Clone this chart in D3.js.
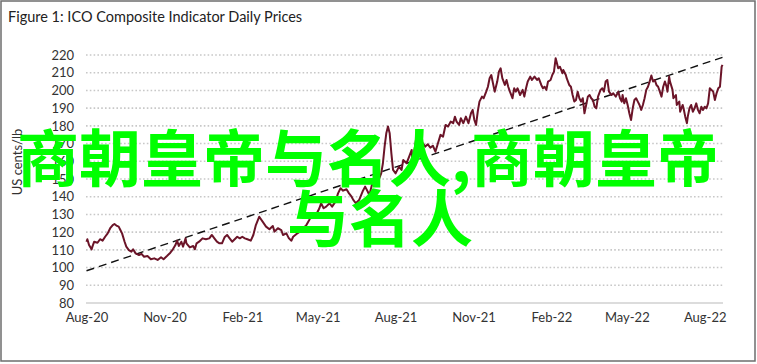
<!DOCTYPE html>
<html><head><meta charset="utf-8">
<script src="https://cdn.jsdelivr.net/npm/d3@7"></script>
<style>
html,body{margin:0;padding:0;background:#fff;}
svg{display:block;}
</style></head>
<body>
<svg id="chart" width="757" height="364"></svg>
<script>
// ---- data ----
const title = "Figure 1: ICO Composite Indicator Daily Prices";
const yTitle = "US cents/lb";
const startDate = "2020-08-01";
// days since startDate
const dayOffsets = [0,1,3,6,7,9,13,16,19,22,25,28,31,33,36,38,40,42,45,47,50,53,55,58,62,65,68,72,76,80,84,88,91,95,99,102,105,107,109,112,114,117,118,122,126,128,130,133,137,141,145,148,151,154,157,160,163,166,169,172,175,178,181,184,187,190,194,197,200,204,212,216,220,222,226,230,232,236,239,242,244,248,252,255,259,263,267,271,275,277,280,283,287,290,294,297,300,303,307,310,313,315,318,322,326,329,332,334,337,340,343,345,348,350,352,354,356,358,360,362,365,369,372,374,378,381,384,385,389,392,395,397,400,403,406,409,412,415,418,421,424,427,430,433,435,437,440,442,445,448,451,454,456,458,460,462,464,467,469,472,474,476,478,480,482,485,487,489,491,494,496,498,500,503,505,507,509,512,515,517,519,521,524,526,529,532,534,537,539,541,543,545,548,550,552,554,555,557,559,562,563,566,567,570,572,574,576,578,580,582,584,586,588,590,592,594,596,598,600,602,604,607,609,611,613,615,617,620,622,625,628,630,632,633,635,637,639,641,643,645,647,649,651,653,655,657,659,661,663,665,667,669,671,673,675,677,679,681,683,685,686,688,689,692,693,696,697,700,701,704,705,707,709,710,712,714,716,718,720,722,724,726,728,730,732,734,736,738,740,742,744,746,748,750,751];
const prices = [114.6,116,112.7,110.3,111.8,114.6,114,116,115.2,117.4,119.3,122.2,124,124.6,123.5,123.1,121.2,119.3,114.6,111.8,109.9,109,110.3,108,107.1,107.7,106.1,106.5,104.7,105.2,104.3,105.8,104.7,106.5,108.4,110.3,112.7,115.2,112.2,114.6,111.8,116.5,113.7,111.4,112.2,110.3,113.7,114.6,116.5,116,116.5,118.4,116.5,114.6,113.7,113.7,117.1,118.4,116.5,114.6,116,117.4,116.5,117.4,116.5,116,115.2,118.4,124,128.7,123.1,121.6,123.5,120.3,122.2,121.2,118.4,119.3,116.5,115.2,117.4,119,120.3,122.2,123.5,126.9,130.6,129.7,133.5,136.3,133.5,134.4,136.3,134.4,137.2,141.9,144.8,143.4,144.2,141.9,140,138.2,136.3,138.2,142.9,145.7,142.9,141,146.6,150.4,152.3,149.5,153.2,158.9,168.3,175.8,179.6,175.8,164.5,155.1,153.2,157,155.1,160.7,158.9,162.6,166.4,158.9,172,169.2,171.1,170.2,168.3,169.6,167.7,168.8,165.4,170.2,174.9,173.9,180.5,179.6,182.4,181.5,185.2,182.4,180.5,184.3,181.5,185.2,181.5,187.1,189,183.3,180.5,188,193.7,196.5,195.6,199.3,202.1,206.9,208.7,204,199.3,205,210.6,212.5,206.9,203.1,205.9,202.1,199.3,195.6,201.2,199.3,201.2,197.4,200.3,196.5,201.2,205,207.8,205.9,207.8,205.9,206.9,203.1,201.2,202.1,200.3,205,205.9,208.7,210.6,218.2,216.3,212.5,213.4,209.7,211.5,208.7,206.9,203.1,202.1,197.4,193.7,194.6,199.3,195.6,193.7,195.6,187.1,191.8,196.5,197.4,195.6,194.6,190.8,189.9,196.5,200.3,201.2,199.3,205,205.9,199.3,197.4,198.4,196.5,199.3,195.6,193.7,197.4,192.7,195.6,191.8,187.1,183.3,189.9,194.6,195.6,193.7,191.8,189,191.8,195.6,200.3,202.1,205,208.4,205,205.9,203.1,202.1,199.3,196.5,202.1,205,202.1,199.3,207.8,205,200.3,195.6,197.4,191.8,193.7,188,191.8,189.9,185.2,181.5,185.2,189.9,191.8,188,189.9,192.7,189,187.1,190.8,189,190.8,189.9,192.7,201.2,200.3,199.3,194.6,198.4,201.2,202.1,213.4,214.4];
// linear trend line end points (day offset, value)
const trendDays = [0, 751];
const trendValues = [98.2, 218.7];
const yTicks = [80,90,100,110,120,130,140,150,160,170,180,190,200,210,220];
const xTickDates = ["2020-08-01","2020-11-01","2021-02-01","2021-05-01","2021-08-01","2021-11-01","2022-02-01","2022-05-01","2022-08-01"];
const xTickLabels = ["Aug-20","Nov-20","Feb-21","May-21","Aug-21","Nov-21","Feb-22","May-22","Aug-22"];
const overlayLines = ["商朝皇帝与名人,商朝皇帝","与名人"];

// ---- drawing ----
const W = 757, H = 364;
const svg = d3.select("#chart");
const parse = d3.utcParse("%Y-%m-%d");
const t0 = parse(startDate);
const toDate = d => d3.utcDay.offset(t0, d);

const x = d3.scaleUtc().domain([t0, toDate(751)]).range([86.5, 722.5]);
const y = d3.scaleLinear().domain([80, 220]).range([303, 55]);

// outer frame
svg.append("rect").attr("x",1).attr("y",1).attr("width",W-3).attr("height",H-4)
  .attr("fill","none").attr("stroke","#6d6d6d").attr("stroke-width",1.5);

svg.append("text").attr("x",8).attr("y",22).text(title)
  .attr("font-family","Lato, 'Open Sans', sans-serif").attr("font-size",14.5).attr("fill","#222");

// gridlines
svg.append("g").selectAll("line").data(yTicks.filter(v=>v>80)).join("line")
  .attr("x1",86).attr("x2",723).attr("y1",d=>y(d)).attr("y2",d=>y(d))
  .attr("stroke","#c8c8c8").attr("stroke-width",1.6).attr("stroke-dasharray","1.6,2.2");
// baseline
svg.append("line").attr("x1",86).attr("x2",723).attr("y1",y(80)).attr("y2",y(80))
  .attr("stroke","#dcdcdc").attr("stroke-width",2);

// y axis labels
const yAxis = d3.axisLeft(y).tickValues(yTicks).tickSize(0).tickPadding(0);
const gy = svg.append("g").attr("transform","translate(74,0)").call(yAxis);
gy.select(".domain").remove();
gy.selectAll("text").attr("font-family","Lato, 'Open Sans', sans-serif").attr("font-size",13).attr("fill","#333");

// x axis labels
const xAxis = d3.axisBottom(x).tickValues(xTickDates.map(parse)).tickFormat((d,i)=>xTickLabels[i]).tickSize(0).tickPadding(0);
const gx = svg.append("g").attr("transform","translate(0,313)").call(xAxis);
gx.select(".domain").remove();
gx.selectAll("text").attr("font-family","Lato, 'Open Sans', sans-serif").attr("font-size",13).attr("fill","#333");

// y title
svg.append("text").attr("transform","translate(22,162) rotate(-90)").attr("text-anchor","middle")
  .text(yTitle).attr("font-family","Lato, 'Open Sans', sans-serif").attr("font-size",13).attr("fill","#333");

// trend line
svg.append("path").datum(trendDays.map((d,i)=>[d,trendValues[i]]))
  .attr("d", d3.line().x(d=>x(toDate(d[0]))).y(d=>y(d[1])))
  .attr("fill","none").attr("stroke","#111").attr("stroke-width",1.4).attr("stroke-dasharray","8,5");

// price line
svg.append("path").datum(dayOffsets.map((d,i)=>[d,prices[i]]))
  .attr("d", d3.line().x(d=>x(toDate(d[0]))).y(d=>y(d[1])))
  .attr("fill","none").attr("stroke","#6b1428").attr("stroke-width",2).attr("stroke-linejoin","round");

// overlay text
svg.append("g").selectAll("text").data(overlayLines).join("text")
  .attr("x",(d,i)=> i===0 ? 368 : 380).attr("y",(d,i)=>182 + i*60)
  .attr("text-anchor","middle")
  .attr("font-family","'Noto Sans CJK SC', sans-serif").attr("font-weight","bold")
  .attr("font-size",62).attr("fill","#00ff00").text(d=>d);
</script>
</body></html>
